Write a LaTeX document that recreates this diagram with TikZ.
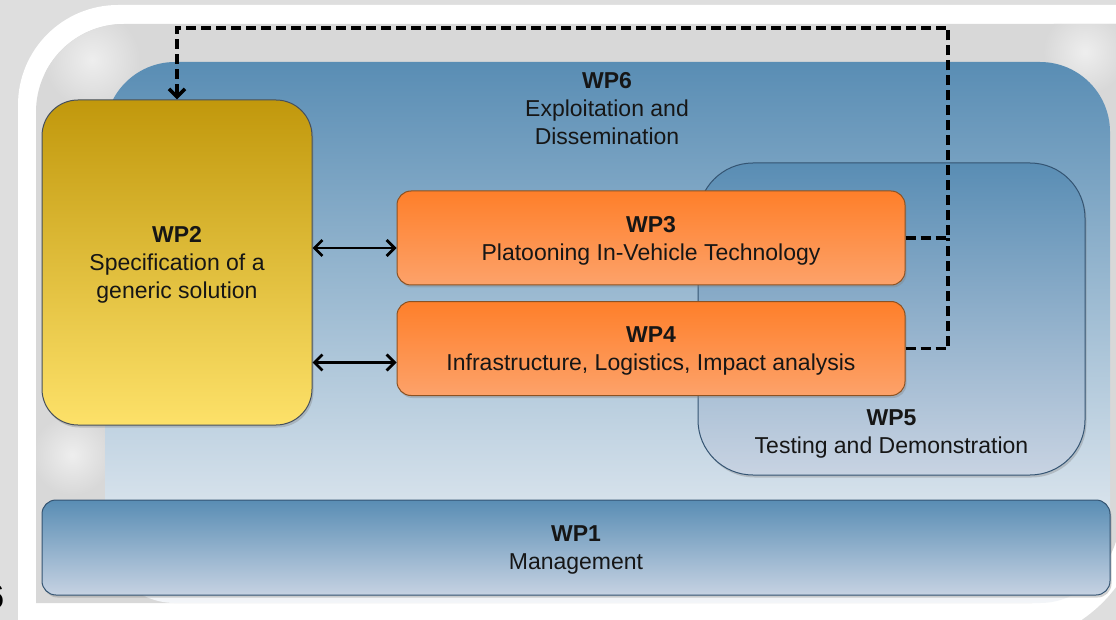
\documentclass[tikz,border=0pt]{standalone}
\usepackage{fontspec}
\setmainfont{Liberation Sans}
\usetikzlibrary{arrows.meta,shadows}
\definecolor{bgout}{RGB}{222,222,222}
\definecolor{bgin}{RGB}{216,216,216}
\definecolor{glow}{RGB}{238,238,238}
\definecolor{bluetop}{RGB}{89,141,180}
\definecolor{bluemid}{RGB}{148,180,206}
\definecolor{bluebot}{RGB}{243,245,248}
\definecolor{wpfivebot}{RGB}{200,211,226}
\definecolor{wponebot}{RGB}{198,210,226}
\definecolor{blueline}{RGB}{52,84,114}
\definecolor{goldtop}{RGB}{193,152,12}
\definecolor{goldbot}{RGB}{253,225,105}
\definecolor{goldline}{RGB}{70,80,92}
\definecolor{orangetop}{RGB}{254,127,42}
\definecolor{orangebot}{RGB}{253,162,106}
\definecolor{orangeline}{RGB}{140,82,34}
\definecolor{txt}{RGB}{22,22,22}
\tikzset{
  shad/.style={drop shadow={shadow xshift=1.5pt,shadow yshift=-2.5pt,opacity=0.35}},
  wpgold/.style={draw=goldline,line width=1pt,rounded corners=36pt,top color=goldtop,bottom color=goldbot,shad,align=center,text=txt,text depth=0pt},
  wporange/.style={draw=orangeline,line width=1pt,rounded corners=14pt,top color=orangetop,bottom color=orangebot,shad,align=center,text=txt,text depth=0pt,minimum width=508pt,minimum height=94pt},
  wpbluebox/.style={draw=blueline,line width=1pt,top color=bluetop,bottom color=wpfivebot,shad},
  wplabel/.style={align=center,text=txt,inner sep=0pt},
  twoway/.style={{Straight Barb[length=8pt,width=16pt]}-{Straight Barb[length=8pt,width=16pt]},line width=2.8pt,black},
  dashline/.style={line width=3.6pt,black,dash pattern=on 10pt off 5pt}
}
\begin{document}
\begin{tikzpicture}[x=1pt,y=-1pt,font=\fontsize{23}{28}\selectfont]
\useasboundingbox (0,0) rectangle (1116,620);
% page background
\fill[bgout] (0,0) rectangle (1116,620);
\node[anchor=east,inner sep=0pt,font=\fontsize{34}{34}\selectfont] (six) at (4.5,597) {6};
% white frame (rounded diagonal corners)
\fill[white] (18,645) -- (18,105) arc[start angle=180,end angle=270,radius=100]
  -- (1145,5) -- (1145,500) arc[start angle=0,end angle=90,radius=145] -- cycle;
% inner panel
\def\innerpanel{(36,603) -- (36,112) arc[start angle=180,end angle=270,radius=88]
  -- (1120,24) -- (1120,515) arc[start angle=0,end angle=90,radius=88] -- cycle}
\fill[bgin] \innerpanel;
% soft light glows inside the panel
\begin{scope}
\clip \innerpanel;
\shade[inner color=glow,outer color=bgin] (92,60) circle[radius=48];
\shade[inner color=glow,outer color=bgin] (1085,52) circle[radius=42];
\shade[inner color=glow,outer color=bgin] (72,455) circle[radius=40];
\end{scope}
% WP6
\node[inner sep=0pt,rounded corners=70pt,minimum width=1005pt,minimum height=541pt,
      top color=bluetop,middle color=bluemid,bottom color=bluebot] (wp6) at (607.5,332.5) {};
\node[wplabel] (wp6t) at (607,109) {\textbf{WP6}\\Exploitation and\\Dissemination};
% WP5
\node[wpbluebox,rounded corners=55pt,minimum width=387pt,minimum height=312pt] (wp5) at (891.5,319) {};
\node[wplabel] (wp5t) at (891.5,434) {\textbf{WP5}\\Testing and Demonstration};
% WP1
\node[wpbluebox,rounded corners=14pt,bottom color=wponebot,minimum width=1068pt,minimum height=95pt,align=center,text=txt,text depth=0pt] (wp1) at (576,547.5) {\textbf{WP1}\\Management};
% WP2
\node[wpgold,minimum width=270pt,minimum height=325pt] (wp2) at (177,262.5) {\textbf{WP2}\\Specification of a\\generic solution};
% WP3, WP4
\node[wporange] (wp3) at (651,238) {\textbf{WP3}\\Platooning In-Vehicle Technology};
\node[wporange] (wp4) at (651,348.5) {\textbf{WP4}\\Infrastructure, Logistics, Impact analysis};
% double arrows
\coordinate (a3) at ([yshift=-10pt]wp3.west);
\coordinate (a4) at ([yshift=-14pt]wp4.west);
\draw[twoway] (wp2.east |- a3) -- (a3);
\draw[twoway] (wp2.east |- a4) -- (a4);
% dashed feedback
\coordinate (j3) at (948,238);
\coordinate (jtop) at (948,28);
\draw[dashline] (wp4.east) -- (wp4.east -| j3) -- (j3);
\draw[dashline,-{Straight Barb[length=8pt,width=16pt]}] (wp3.east) -- (j3) -- (jtop) -- (jtop -| wp2.north) -- (wp2.north);
\end{tikzpicture}
\end{document}
